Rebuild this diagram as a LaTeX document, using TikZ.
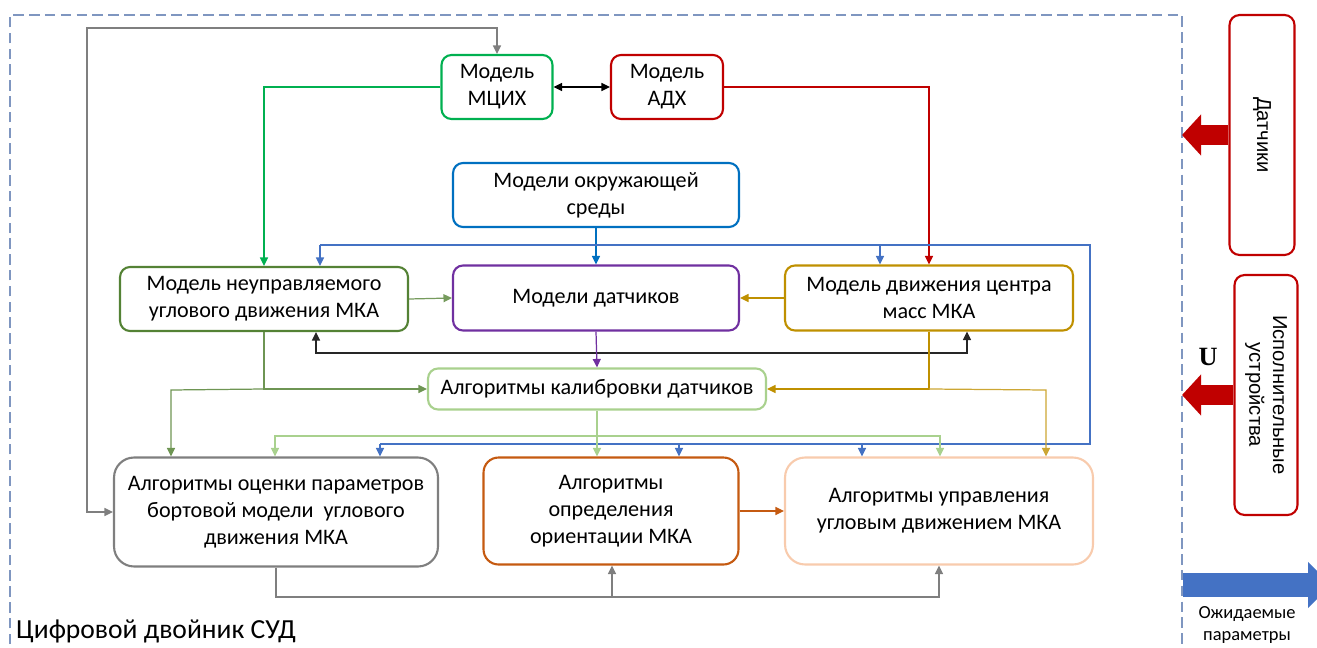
\documentclass[tikz,border=0pt]{standalone}
\usepackage{fontspec}
\setmainfont{Carlito}
\newfontfamily\arialfont{Liberation Sans}
\newfontfamily\timesfont{Liberation Serif}
\usepackage{xcolor}
\usetikzlibrary{arrows.meta,calc}

\definecolor{mcihgreen}{HTML}{00B050}
\definecolor{adhred}{HTML}{C00000}
\definecolor{envblue}{HTML}{0070C0}
\definecolor{freegreen}{HTML}{548235}
\definecolor{sensviolet}{HTML}{7030A0}
\definecolor{cmgold}{HTML}{BF9000}
\definecolor{calibgreen}{HTML}{A9D18E}
\definecolor{estimgray}{HTML}{7F7F7F}
\definecolor{orientorange}{HTML}{C55A11}
\definecolor{ctrlpeach}{HTML}{F8CBAD}
\definecolor{loopblue}{HTML}{4472C4}
\definecolor{frameblue}{HTML}{7F96C0}

\begin{document}
\begin{tikzpicture}[
  x=0.02cm, y=-0.02cm,
  font=\fontsize{12.6}{15.3}\selectfont,
  box/.style={draw, rounded corners=0.2cm, line width=1.2pt, align=center, fill=white, inner sep=2pt},
  line/.style={line width=0.7pt},
  arrow/.style={line, -{Triangle[length=1.7mm, width=1.6mm]}},
  biarrow/.style={line, {Triangle[length=1.7mm, width=1.6mm]}-{Triangle[length=1.7mm, width=1.6mm]}},
  fat/.style={line width=0.4cm, -{Triangle[length=0.38cm, width=0.8cm]}},
  side/.style={box, draw=adhred, rotate=-90, minimum width=4.8cm, font=\arialfont\fontsize{11.5}{13.5}\selectfont}
]
\useasboundingbox (0,0) rectangle (1317,648);

% frame of the digital twin
\coordinate (fr) at (1182,15);
\draw[frameblue, line width=0.8pt, dash pattern=on 6pt off 3pt] (10,660) -- (10,15) -- (fr) -- (1182,660);
\node[anchor=west, font=\fontsize{15.7}{18}\selectfont] (twin) at (10,631) {Цифровой двойник СУД};

% models
\node[box, draw=mcihgreen, minimum width=2.22cm, minimum height=1.28cm] (mcih) at (497,87) {Модель\\МЦИХ};
\node[box, draw=adhred, minimum width=2.24cm, minimum height=1.28cm] (adh) at (667,87) {Модель\\АДХ};
\node[box, draw=envblue, minimum width=5.72cm, minimum height=1.28cm] (env) at (596,195) {Модели окружающей\\среды};
\node[box, draw=freegreen, minimum width=5.76cm, minimum height=1.28cm] (free) at (264,299) {Модель неуправляемого\\углового движения МКА};
\node[box, draw=sensviolet, minimum width=5.72cm, minimum height=1.3cm] (sens) at (596,298) {Модели датчиков};
\node[box, draw=cmgold, minimum width=5.76cm, minimum height=1.3cm] (cm) at (929,298) {Модель движения центра\\масс МКА};

% algorithms
\node[box, draw=calibgreen, minimum width=6.76cm, minimum height=0.82cm] (calib) at (597,389) {Алгоритмы калибровки датчиков};
\node[box, draw=estimgray, rounded corners=0.4cm, minimum width=6.48cm, minimum height=2.18cm] (estim) at (276,512) {Алгоритмы оценки параметров\\бортовой модели~ углового\\движения МКА};
\node[box, draw=orientorange, rounded corners=0.3cm, minimum width=5.1cm, minimum height=2.14cm] (orient) at (611,511) {Алгоритмы\\определения\\ориентации МКА};
\node[box, draw=ctrlpeach, rounded corners=0.4cm, minimum width=6.16cm, minimum height=2.14cm] (ctrl) at (939,511) {Алгоритмы управления\\угловым движением МКА};

% outside blocks
\node[side, minimum height=1.3cm] (dat) at (1262,135) {Датчики};
\node[side, minimum height=1.26cm] (isp) at (1266,395) {Исполнительные\\устройства};
\draw[fat, adhred] (dat.south) -- (dat.south -| fr);
\draw[fat, adhred] (isp.south) -- (isp.south -| fr);
\node[font=\timesfont\bfseries\fontsize{15}{18}\selectfont] (u) at (1208,357) {U};
\coordinate (out) at (1183,585);
\draw[line width=0.48cm, loopblue, -{Triangle[length=0.46cm, width=0.9cm]}] (out) -- ++(148,0);
\node[font=\fontsize{10.5}{13}\selectfont, align=center] (exp) at (1247,625) {Ожидаемые\\параметры};

% upper links
\draw[biarrow, estimgray] (estim.west) -| (87,28) -| (mcih.north);
\draw[biarrow, black] (mcih) -- (adh);
\draw[arrow, mcihgreen] (mcih.west) -| (free.north);
\draw[arrow, adhred] (adh.east) -| (cm.north);
\draw[arrow, envblue] (env.south) -- (sens.north);

% blue loop
\coordinate (bA) at (320,245);
\coordinate (bB) at (1090,245);
\coordinate (bC) at (1090,444);
\coordinate (bD) at (380,444);
\draw[line, loopblue] (bA) -- (bB) -- (bC) -- (bD);
\draw[arrow, loopblue] (bA) -- (bA |- free.north);
\draw[arrow, loopblue] (880,245) -- (880,245 |- cm.north);
\draw[arrow, loopblue] (bD) -- (bD |- estim.north);
\draw[arrow, loopblue] (679,444) -- (679,444 |- orient.north);
\draw[arrow, loopblue] (862,444) -- (862,444 |- ctrl.north);

% middle row
\draw[arrow, freegreen!80] (free.east) -- (sens.west);
\draw[arrow, cmgold] (cm.west) -- (sens.east);
\coordinate (k1) at (316,353);
\coordinate (k2) at (967,353);
\draw[biarrow, black!85] (k1 |- free.south) -- (k1) -- (k2) -- (k2 |- cm.south);
\draw[arrow, sensviolet] (sens.south) -- (calib.north);

% to calibration and below
\coordinate (g1) at (171,390);
\draw[arrow, freegreen!85] (free.south) |- (calib.west);
\draw[arrow, freegreen!85] (free.south |- calib.west) -- (g1) -- (g1 |- estim.north);
\coordinate (o1) at (1046,390);
\draw[arrow, cmgold] (cm.south) |- (calib.east);
\draw[arrow, cmgold!80] (cm.south |- calib.east) -- (o1) -- (o1 |- ctrl.north);
\coordinate (l1) at (275,436);
\coordinate (l2) at (940,436);
\draw[arrow, calibgreen] (calib.south) -- (calib.south |- orient.north);
\draw[biarrow, calibgreen] (l1 |- estim.north) -- (l1) -- (l2) -- (l2 |- ctrl.north);

% lower links
\draw[arrow, orientorange] (orient.east) -- (ctrl.west);
\coordinate (q1) at (612,597);
\draw[arrow, estimgray] (estim.south) |- (q1) -| (ctrl.south);
\draw[arrow, estimgray] (q1) -- (q1 |- orient.south);
\end{tikzpicture}
\end{document}
